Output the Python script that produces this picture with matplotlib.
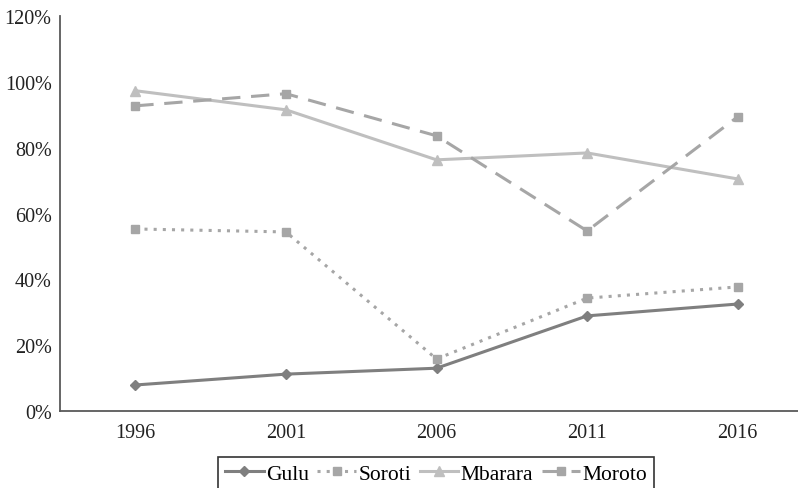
import matplotlib
matplotlib.use('Agg')
from matplotlib import pyplot as plt
from matplotlib.ticker import PercentFormatter

years = ['1996', '2001', '2006', '2011', '2016']
gulu = [7.9, 11.2, 13.0, 28.9, 32.5]
soroti = [55.3, 54.4, 15.8, 34.3, 37.7]
mbarara = [97.3, 91.5, 76.3, 78.4, 70.5]
moroto = [92.7, 96.4, 83.6, 54.7, 89.4]

serif = ['Liberation Serif', 'DejaVu Serif']
plt.rcParams['font.family'] = serif
plt.rcParams['font.size'] = 14.5

fig = plt.figure(figsize=(7.98, 4.89), dpi=100)
ax = fig.add_axes([60 / 798, 77 / 489, 738 / 798, 395 / 489])

x = range(len(years))
ax.plot(x, gulu, color='#7f7f7f', lw=2.2, marker='D', ms=5, label='Gulu')
ax.plot(x, soroti, color='#a6a6a6', lw=2.2, ls=(0, (1, 2)), marker='s', ms=6, label='Soroti')
ax.plot(x, mbarara, color='#bfbfbf', lw=2.2, marker='^', ms=7, label='Mbarara')
ax.plot(x, moroto, color='#a6a6a6', lw=2.2, ls=(0, (6, 3.5)), marker='s', ms=6, label='Moroto')

ax.set_xlim(-0.5, 4.4)
ax.set_ylim(0, 120)
ax.set_yticks(range(0, 121, 20))
ax.yaxis.set_major_formatter(PercentFormatter(decimals=0))
ax.set_xticks(list(x))
ax.set_xticklabels(years)
ax.tick_params(length=0, pad=6, colors='#222222')
ax.tick_params(axis='x', pad=9)

for side in ('top', 'right'):
    ax.spines[side].set_visible(False)
for side in ('left', 'bottom'):
    ax.spines[side].set_color('#595959')
    ax.spines[side].set_linewidth(1.3)

leg = fig.legend(loc='upper center', bbox_to_anchor=(436 / 798, 1 - 458 / 489), ncol=4,
                 frameon=True, fancybox=False, edgecolor='black', handlelength=1.8,
                 handletextpad=0.1, columnspacing=0.4, borderpad=0.3,
                 borderaxespad=0, prop={'family': serif, 'size': 15.5})
leg.get_frame().set_linewidth(1.2)

fig.savefig('out.png', dpi=100)
